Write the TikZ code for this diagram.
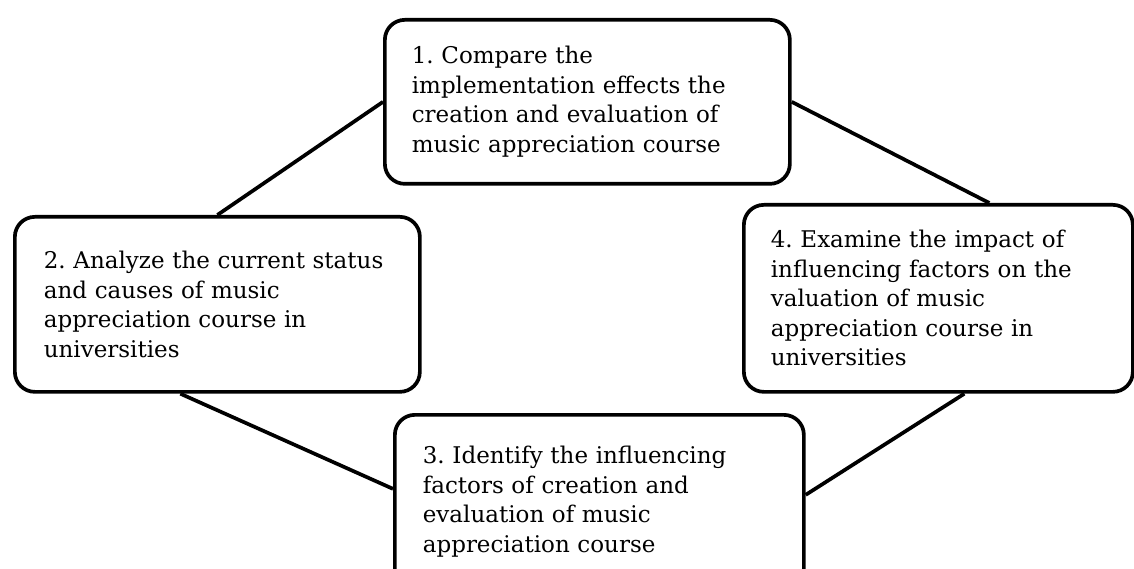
\documentclass[tikz,border=0pt]{standalone}
\usepackage{fontspec}
\setmainfont{DejaVu Serif}
\begin{document}
\frenchspacing
\begin{tikzpicture}[x=1pt,y=-1pt,
  box/.style={draw, line width=3.7pt, rounded corners=20pt, align=left,
    font=\fontsize{23}{29.5}\selectfont, anchor=north west, inner ysep=0pt},
  link/.style={line width=3.7pt}]
\useasboundingbox (0,0) rectangle (1134,569);
\clip (0,0) rectangle (1134,569);
\node[box, inner xsep=27pt, text width=351pt, minimum height=164pt] (b1) at (383,18)
  {1. Compare the\\implementation effects the\\creation and evaluation of\\music appreciation course};
\node[box, inner xsep=29pt, text width=347pt, minimum height=175pt] (b2) at (13,215)
  {2. Analyze the current status\\and causes of music\\appreciation course in\\universities};
\node[box, inner xsep=27pt, text width=335pt, minimum height=187pt] (b4) at (742,203)
  {4. Examine the impact of\\influencing factors on the\\valuation of music\\appreciation course in\\universities};
\node[box, inner xsep=28pt, text width=353pt, minimum height=174pt] (b3) at (393,413)
  {3. Identify the influencing\\factors of creation and\\evaluation of music\\appreciation course};
\draw[link] (b1.west) -- (b2.north);
\draw[link] (b1.east) -- ([xshift=51pt]b4.north);
\draw[link] ([xshift=-37pt]b2.south) -- ([yshift=13pt]b3.west);
\draw[link] ([yshift=7pt]b3.east) -- ([xshift=26pt]b4.south);
\end{tikzpicture}
\end{document}
